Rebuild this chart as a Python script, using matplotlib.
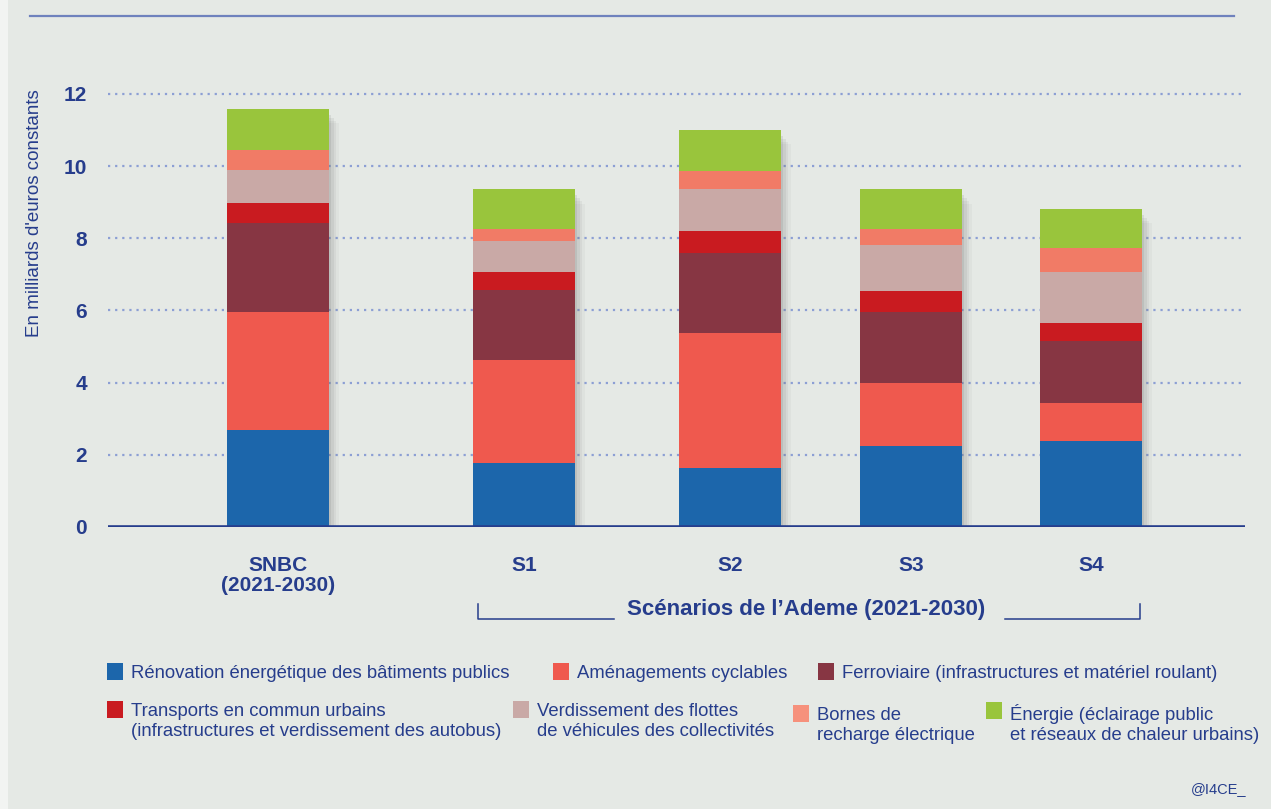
import matplotlib
matplotlib.use("Agg")
import matplotlib.pyplot as plt
from matplotlib.patches import Rectangle
from matplotlib.lines import Line2D
import numpy as np

# data (milliards d'euros constants)
scenarios = ["SNBC\n(2021-2030)", "S1", "S2", "S3", "S4"]
renovation = [2.69, 1.77, 1.63, 2.24, 2.38]
cyclables = [3.27, 2.86, 3.74, 1.74, 1.05]
ferroviaire = [2.46, 1.93, 2.21, 1.98, 1.71]
transports = [0.55, 0.50, 0.62, 0.58, 0.51]
verdissement = [0.92, 0.86, 1.16, 1.27, 1.41]
bornes = [0.55, 0.33, 0.50, 0.44, 0.67]
energie = [1.14, 1.11, 1.14, 1.11, 1.08]
yticks = [0, 2, 4, 6, 8, 10, 12]

series = [renovation, cyclables, ferroviaire, transports, verdissement, bornes, energie]
labels = [
    "Rénovation énergétique des bâtiments publics",
    "Aménagements cyclables",
    "Ferroviaire (infrastructures et matériel roulant)",
    "Transports en commun urbains\n(infrastructures et verdissement des autobus)",
    "Verdissement des flottes\nde véhicules des collectivités",
    "Bornes de\nrecharge électrique",
    "Énergie (éclairage public\net réseaux de chaleur urbains)",
]
colors = ["#1c66ab", "#ef594e", "#873643", "#c91b20", "#c9a9a6", "#f17b66", "#99c53c"]
legend_colors = ["#1c66ab", "#ef594e", "#873643", "#c91b20", "#c9a9a6", "#f6917c", "#99c53c"]

# layout (pixels)
W, H = 1271, 809
navy = "#263d8c"
bg = "#e5e9e5"
bold = ["Liberation Sans", "DejaVu Sans"]
reg = ["Liberation Sans", "DejaVu Sans"]
xpos = [278, 524, 730, 911, 1091]
bar_w = 102
ax_left, ax_right, y0, px_unit = 108, 1245, 527, 36.1
ymax = 12.6

def fx(px):
    return px / W

def fy(py):
    return 1 - py / H

fig = plt.figure(figsize=(W / 100, H / 100), dpi=100)
fig.patch.set_facecolor(bg)
fig.patches.append(Rectangle((0, 0), fx(8), 1, transform=fig.transFigure,
                             facecolor="#f2f4f2", edgecolor="none", zorder=0))

ax = fig.add_axes([fx(ax_left), fy(y0), fx(ax_right - ax_left), ymax * px_unit / H])
ax.set_facecolor("none")
ax.set_xlim(ax_left, ax_right)
ax.set_ylim(0, ymax)

totals = np.sum(series, axis=0)
# soft drop shadow behind each stack
for k, a in [(12, 0.05), (9, 0.07), (6, 0.09), (3, 0.12)]:
    ax.bar(np.array(xpos) + k * 0.5, totals - 0.1, width=bar_w + k * 0.6,
           bottom=-k * 0.025, color="#5f625f", alpha=a, edgecolor="none", zorder=2)

bottom = np.zeros(len(scenarios))
for vals, col in zip(series, colors):
    ax.bar(xpos, vals, width=bar_w, bottom=bottom, color=col, edgecolor="none", zorder=3)
    bottom += np.array(vals)

for t in yticks[1:]:
    ax.axhline(t, color="#8c9fd4", lw=1.6, ls=(0, (1, 2.2)), zorder=1)
ax.axhline(0, color=navy, lw=2.6, zorder=5)

for s in ax.spines.values():
    s.set_visible(False)
ax.set_xticks([])
ax.set_yticks(yticks)
ax.set_yticklabels([str(t) for t in yticks], fontsize=15, fontweight="bold",
                   color=navy, family=bold)
ax.tick_params(axis="y", length=0, pad=15)

fig.text(fx(35), fy(213), "En milliards d'euros constants", rotation=90,
         ha="center", va="center", fontsize=13.5, color=navy, family=reg)

# category labels
for x, lab in zip(xpos, scenarios):
    fig.text(fx(x), fy(556), lab, ha="center", va="top", fontsize=15,
             fontweight="bold", color=navy, family=bold, linespacing=1.05)

# bracket for Ademe scenarios
for xs, ys in [([478, 478, 614], [604, 619, 619]), ([1005, 1140, 1140], [619, 619, 604])]:
    fig.add_artist(Line2D([fx(v) for v in xs], [fy(v) for v in ys],
                          color=navy, lw=1.1, transform=fig.transFigure))
fig.text(fx(806), fy(609), "Scénarios de l’Ademe (2021-2030)", ha="center", va="center",
         fontsize=16, fontweight="bold", color=navy, family=bold)

# top rule
fig.add_artist(Line2D([fx(30), fx(1234)], [fy(16), fy(16)], color="#6f82bd", lw=1.6,
                      transform=fig.transFigure))

# legend, placed by hand
leg_pos = [(107, 663), (553, 663), (818, 663), (107, 701), (513, 701), (793, 705), (986, 702)]
for (lx, ly), lab, col in zip(leg_pos, labels, legend_colors):
    fig.patches.append(Rectangle((fx(lx), fy(ly + 17)), fx(16), 17 / H,
                                 transform=fig.transFigure, facecolor=col, edgecolor="none"))
    fig.text(fx(lx + 24), fy(ly + 2), lab, ha="left", va="top", fontsize=13.3,
             color=navy, family=reg, linespacing=1.2)

fig.text(fx(1246), fy(789), "@I4CE_", ha="right", va="center", fontsize=10.5,
         color=navy, family=reg)

fig.savefig("out.png", dpi=100, facecolor=bg)
